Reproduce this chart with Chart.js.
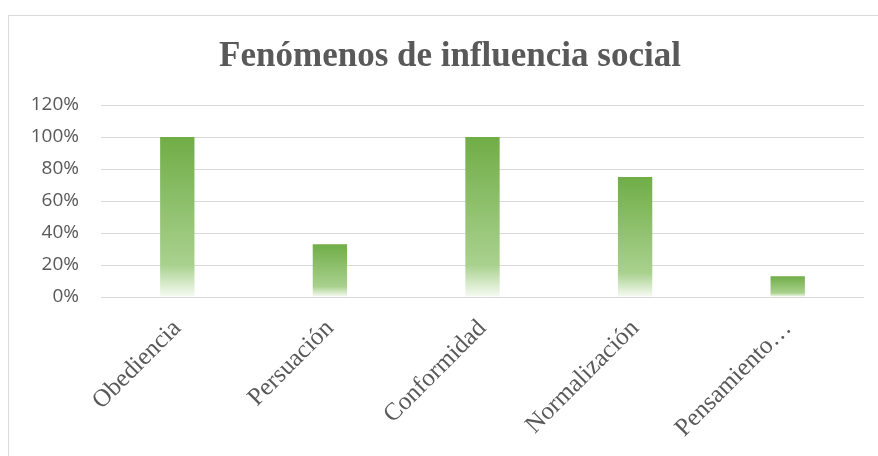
<!DOCTYPE html>
<html>
<head>
<meta charset="utf-8">
<script src="https://cdn.jsdelivr.net/npm/chart.js@4/dist/chart.umd.min.js"></script>
<style>
  html, body { margin: 0; padding: 0; background: #ffffff; }
  #wrap { position: relative; width: 878px; height: 456px; overflow: hidden; }
  #frame { position: absolute; left: 8px; top: 15px; width: 900px; height: 460px;
           border-left: 1px solid #d9d9d9; border-top: 1px solid #d9d9d9; box-sizing: border-box; }
  canvas { position: absolute; left: 0; top: 0; }
</style>
</head>
<body>
<div id="wrap">
  <div id="frame"></div>
  <canvas id="c" width="878" height="456"></canvas>
</div>
<script>
const titleText = "Fenómenos de influencia social";
const categories = ["Obediencia", "Persuación", "Conformidad", "Normalización", "Pensamiento…"];
const values = [1.00, 0.33, 1.00, 0.75, 0.13];
const yTicks = [0, 0.2, 0.4, 0.6, 0.8, 1.0, 1.2];

function barGradient(context) {
  const chart = context.chart;
  const area = chart.chartArea;
  if (!area || context.type !== 'data') return '#70AD47';
  const y = chart.scales.y;
  const v = context.raw;
  const top = y.getPixelForValue(v);
  const bottom = y.getPixelForValue(0);
  const g = chart.ctx.createLinearGradient(0, top, 0, bottom);
  g.addColorStop(0, '#70AD47');
  g.addColorStop(0.80, '#A9D18E');
  g.addColorStop(1, '#f7fbf4');
  return g;
}

const shiftTitle = {
  id: 'shiftTitle',
  afterLayout(chart) {
    if (chart.titleBlock) { chart.titleBlock.left = 36; }
  }
};

new Chart(document.getElementById('c'), {
  type: 'bar',
  data: {
    labels: categories,
    datasets: [{
      data: values,
      backgroundColor: barGradient,
      borderWidth: 0,
      barPercentage: 1,
      categoryPercentage: 0.225
    }]
  },
  plugins: [shiftTitle],
  options: {
    responsive: false,
    animation: false,
    layout: { padding: { left: 9, right: 14, top: 15, bottom: 0 } },
    plugins: {
      legend: { display: false },
      tooltip: { enabled: false },
      title: {
        display: true,
        text: titleText,
        color: '#595959',
        font: { family: "'Liberation Serif', 'Times New Roman', serif", size: 35, weight: 'bold', lineHeight: 1.2 },
        padding: { top: 21, bottom: 27 }
      }
    },
    scales: {
      x: {
        grid: { display: false, drawTicks: false },
        border: { display: false },
        ticks: {
          color: '#595959',
          font: { family: "'Liberation Serif', 'Times New Roman', serif", size: 25 },
          minRotation: 45, maxRotation: 45,
          padding: 17,
          autoSkip: false
        },
        afterFit: (s) => { s.height = 159; }
      },
      y: {
        min: 0, max: 1.2,
        afterBuildTicks: (s) => { s.ticks = yTicks.map(v => ({ value: v })); },
        grid: { color: '#d9d9d9', lineWidth: 1, drawTicks: false },
        border: { display: false },
        ticks: {
          color: '#595959',
          font: { family: "'Open Sans', sans-serif", size: 19 },
          padding: 22,
          callback: (v) => Math.round(v * 100) + '%'
        },
        afterFit: (s) => { s.width = 92; }
      }
    }
  }
});
</script>
</body>
</html>
